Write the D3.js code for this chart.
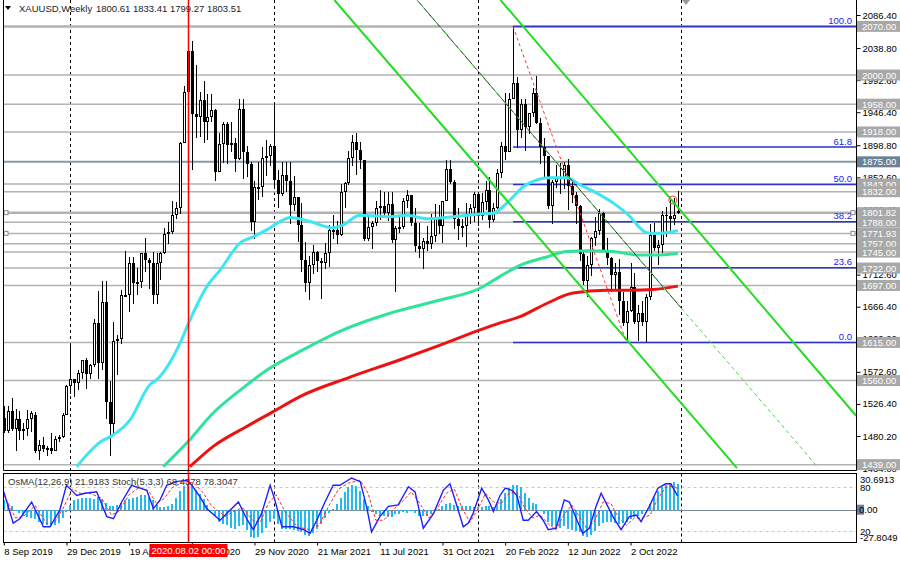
<!DOCTYPE html>
<html><head><meta charset="utf-8">
<script src="https://cdn.jsdelivr.net/npm/d3@7"></script>
<style>
html,body{margin:0;padding:0;background:#fff;}
svg{display:block;font-family:"Liberation Sans",Arial,sans-serif;}
</style></head><body>
<svg id="c" width="900" height="561"></svg>
<script>
// ---------- DATA ----------
const symbolTitle = "XAUUSD,Weekly";
const lastOHLC = "1800.61 1833.41 1799.27 1803.51";
const oscTitle = "OsMA(12,26,9) 21.9183  Stoch(5,3,3) 68.4378 78.3047";
// week index 0 = 8 Sep 2019
const xTickIdx = [0,16,32,48,64,80,96,112,128,144,160];
const xTickLabels = ["8 Sep 2019","29 Dec 2019","19 Apr 2020","9 Aug 2020","29 Nov 2020","21 Mar 2021","11 Jul 2021","31 Oct 2021","20 Feb 2022","12 Jun 2022","2 Oct 2022"];
const yearStartIdx = [17,69,121,173];
const priceTicks = [2086.40,2038.80,1992.60,1946.40,1898.80,1852.60,1806.40,1758.80,1712.60,1666.40,1620.20,1572.60,1526.40,1480.20,1434.00];

const openP = [1506,1488,1516,1490,1504,1488,1490,1504,1510,1458,1467,1462,1463,1459,1476,1479,1511,
1552,1562,1557,1571,1589,1570,1583,1643,1585,1673,1529,1498,1617,1620,1683,1683,1729,1701,1702,1743,1734,1730,1683,1729,1743,1771,1774,1798,1809,1902,1975,2035,1944,1940,1964,1933,1940,1950,1861,1900,1930,1899,1902,1879,1951,1889,1872,1788,1839,1839,1881,1883,
1898,1849,1828,1856,1848,1813,1824,1784,1734,1700,1727,1745,1732,1729,1744,1777,1777,1769,1831,1844,1881,1903,1892,1877,1764,1781,1787,1808,1812,1802,1814,1763,1780,1781,1818,1827,1787,1754,1750,1761,1757,1768,1792,1783,1818,1865,1846,1792,1783,1783,1798,1809,
1829,1797,1817,1835,1791,1808,1859,1898,1889,1966,1988,1921,1958,1925,1945,1974,1931,1896,1883,1811,1846,1853,1851,1871,1840,1827,1811,1742,1703,1727,1766,1775,1802,1747,1737,1712,1716,1675,1643,1660,1695,1644,1657,1644,1681,1770,1751,1755,1798,1797,1793,1800.61];
const highP = [1524,1523,1535,1519,1516,1499,1518,1516,1515,1474,1479,1466,1484,1480,1482,1514,1554,
1611,1563,1575,1590,1592,1584,1649,1689,1703,1703,1560,1645,1625,1690,1747,1738,1738,1722,1744,1765,1736,1745,1744,1745,1779,1789,1818,1817,1903,1984,2075,2049,2015,1976,1992,1973,1973,1951,1917,1932,1933,1932,1910,1965,1966,1898,1875,1848,1875,1896,1906,1900,
1959,1863,1875,1875,1875,1855,1825,1815,1760,1740,1755,1746,1737,1758,1784,1798,1790,1843,1846,1890,1913,1916,1903,1878,1795,1790,1818,1834,1832,1832,1832,1782,1795,1823,1834,1827,1809,1787,1765,1782,1800,1814,1813,1818,1877,1877,1849,1808,1793,1815,1814,1831,
1831,1830,1848,1853,1815,1865,1903,1974,1974,2070,1997,1966,1966,1945,1982,1998,1938,1909,1884,1849,1870,1874,1875,1879,1847,1831,1813,1745,1739,1767,1795,1807,1803,1765,1738,1729,1735,1688,1675,1730,1715,1669,1675,1684,1786,1787,1762,1804,1810,1824,1823,1833.41];
const lowP = [1485,1484,1488,1459,1474,1475,1480,1486,1456,1445,1457,1452,1454,1459,1471,1478,1510,
1541,1536,1546,1563,1548,1562,1580,1563,1575,1504,1451,1482,1568,1613,1680,1659,1671,1683,1693,1717,1692,1670,1671,1705,1742,1757,1771,1792,1800,1902,1964,1863,1910,1911,1902,1907,1932,1848,1860,1873,1872,1889,1860,1877,1850,1853,1775,1764,1820,1825,1854,1869,
1836,1808,1826,1831,1785,1804,1760,1717,1687,1676,1713,1717,1677,1721,1723,1764,1756,1768,1808,1842,1869,1856,1865,1761,1761,1750,1783,1791,1794,1790,1758,1687,1773,1778,1808,1782,1745,1737,1721,1746,1749,1760,1771,1758,1818,1843,1778,1762,1767,1753,1785,1789,
1782,1791,1805,1780,1788,1807,1851,1878,1889,1966,1895,1910,1890,1915,1940,1930,1872,1850,1807,1786,1838,1828,1836,1805,1816,1785,1732,1697,1680,1711,1754,1770,1746,1727,1688,1690,1654,1639,1615,1659,1641,1617,1638,1616,1676,1747,1727,1744,1767,1773,1784,1799.27];
const closeP = [1488,1516,1490,1504,1488,1490,1504,1514,1458,1467,1462,1463,1459,1476,1479,1511,1552,
1562,1557,1571,1589,1570,1583,1643,1585,1673,1529,1498,1617,1620,1683,1683,1729,1701,1702,1743,1734,1730,1683,1729,1743,1771,1774,1798,1809,1902,1975,2035,1944,1940,1964,1933,1940,1950,1861,1900,1930,1899,1902,1879,1951,1889,1872,1788,1839,1839,1881,1883,1898,
1849,1828,1856,1848,1813,1824,1784,1734,1700,1727,1745,1732,1729,1744,1777,1777,1769,1831,1844,1881,1903,1892,1877,1764,1781,1787,1808,1812,1802,1814,1763,1780,1781,1818,1827,1787,1754,1750,1761,1757,1768,1792,1783,1818,1865,1846,1792,1783,1783,1798,1809,1829,
1797,1817,1835,1791,1808,1859,1898,1889,1966,1988,1921,1958,1925,1945,1974,1931,1896,1883,1811,1846,1853,1851,1871,1840,1827,1811,1742,1703,1727,1766,1775,1802,1747,1737,1712,1716,1675,1643,1660,1695,1644,1657,1644,1681,1770,1751,1755,1798,1797,1793,1798,1803.51];

// moving averages: [week index, price]
const maFast = [[18.6,1436],[25.3,1474],[27.1,1479],[32.2,1503],[37.3,1554],[39,1561],[45,1614],[47.5,1647],[51.8,1695],[55.2,1719],[60.3,1758],[63.6,1767],[67.1,1777],[70.5,1789],[73.1,1795],[78.2,1789],[84,1780],[86.6,1784],[90.9,1798],[98.6,1796],[102.9,1798],[108,1793],[114.7,1796],[121.6,1800],[124.9,1801],[129.2,1820],[132.6,1839],[136.1,1849],[139.4,1852],[143.7,1852],[147.1,1842],[151.4,1830],[155.5,1816],[159.9,1796],[162.4,1780],[164.1,1773],[167.5,1772],[172.1,1776]];
const maMid = [[40.7,1436],[46.7,1470],[53.4,1513],[60.3,1546],[67.1,1575],[75.6,1602],[85.8,1631],[98.6,1657],[111.4,1676],[121.6,1693],[126.7,1710],[131.8,1726],[138.6,1738],[143.7,1746],[149.7,1747],[155.5,1746],[161.6,1741],[167.5,1741],[172.1,1743]];
const maSlow = [[47.5,1436],[53.4,1465],[62,1494],[68.7,1515],[75.6,1537],[88.4,1565],[101.2,1590],[111.4,1611],[121.6,1633],[126.7,1643],[131.8,1652],[138.6,1671],[145.3,1686],[153.9,1690],[159.9,1690],[165.7,1691],[172.1,1696]];

const levelPrices = [2070,2000,1958,1918,1875,1843,1832,1801.82,1788,1771.93,1757,1745,1722,1697,1615,1560,1439];
const darkLevel = 1875;
const thickLevels = [2070,1801.82];
const squareLevels = [1801.82,1771.93];
const fibPrices = [2070,1896.2,1842.5,1788.8,1722.4,1615];
const fibNames = ["100.0","61.8","50.0","38.2","23.6","0.0"];
const fibStartIdx = 130;
const fibBase = [130,2070,159,1615];
const channelLines = [[84.4,2108,187.2,1434.1],[126.8,2108,217.6,1509.4]];
const trendLine = [105.5,2108,208,1434.1];
const trendSolidEnd = 173;
const markerPoint = [170.8,1820];
const vLineIdx = 47;
const vLineLabel = "2020.08.02 00:00";

const osma = [8,6,3,-1,-3,-5,-6,-7,-8,-10,-12,-13,-14,-13,-11,-7,-2,
4,8,9,10,10,10,9,11,9,6,3,3,4,6,8,9,10,11,12,12,11,8,4,2,2,3,5,10,16,20,22,21,17,13,9,4,
-1,-5,-10,-12,-13,-15,-16,-14,-13,-17,-23,-24,-23,-20,-15,-10,-8,-12,-16,-16,-16,-17,-18,-19,-21,-22,-20,-16,-12,-7,-3,1,5,10,15,19,21,20,16,9,3,-2,-4,-5,-5,-6,-6,-4,-4,-2,-3,-1,-3,-5,-5,-5,-4,-1,1,3,5,
6,4,3,3,3,3,2,2,2,3,3,2,5,9,14,18,21,21,19,14,10,6,5,-1,-4,-10,-14,-16,-15,-14,-16,-17,-18,-19,-22,-23,-21,-18,-14,-11,-10,-10,-11,-12,-11,-10,-8,-6,-5,-4,-1,5,11,16,19,21,22,23,21.9183];
const stochMain = [[0,74],[2.4,31],[4.1,37],[7.1,60],[10.1,26],[11.8,26],[14.3,49],[16,83],[17.3,76],[18.6,69],[20.7,72],[23.7,74],[26.3,40],[28,37],[30.1,60],[32.6,83],[34.8,79],[36.5,76],[38.2,51],[39.9,63],[41.6,83],[44.1,88],[46.7,90],[48,83],[50.1,67],[51.8,51],[55.2,35],[57.8,49],[59.9,60],[62,37],[63.7,22],[65.8,44],[68,83],[69.2,63],[71,26],[74,26],[76.5,22],[78.2,17],[79.9,35],[82,60],[84.1,83],[85.8,83],[88.8,93],[91,88],[92.6,54],[93.9,19],[96,40],[98.2,54],[100.7,56],[103.3,81],[105,74],[107.1,24],[109.7,44],[112.2,76],[113.9,85],[115.2,63],[117.3,26],[118.6,31],[119.8,44],[122,79],[123.7,63],[125,47],[126.7,69],[128,79],[129.7,76],[131,69],[132.6,35],[133.9,35],[136,47],[137.7,35],[139,22],[141,24],[143.1,63],[144.4,60],[146.5,33],[147.8,17],[149.5,24],[151.2,54],[152.5,72],[154.2,54],[155.5,40],[157.6,22],[159.7,40],[161.5,42],[162.7,33],[164.8,54],[167,79],[169,85],[170.3,85],[172,68.4]];
const stochSignal = [[0,70],[3,38],[5,40],[8,55],[11,30],[13,32],[15.5,55],[17.5,78],[19.5,72],[22,72],[25,65],[27.5,42],[29.5,48],[32,70],[34.5,80],[37,75],[39,58],[41,65],[43,80],[46,88],[48.5,86],[51,72],[53,55],[56.5,40],[59,48],[61,52],[63.5,35],[65.5,32],[67.5,58],[69.5,70],[72,45],[75,26],[78,22],[80.5,28],[83,55],[85.5,78],[88,86],[91,90],[93,72],[95,35],[97,35],[99.5,50],[102,62],[104,74],[106,60],[108.5,38],[110.5,50],[113,72],[115,78],[117,52],[119,32],[121,50],[123,72],[125,60],[127,58],[129,72],[131,74],[133,52],[135,38],[137,42],[139,30],[141,22],[143,42],[145,56],[147,40],[149,22],[151,36],[153,60],[155,58],[157,38],[159,28],[161,38],[163,38],[165,42],[167,65],[169,80],[171,82],[172,78.3]];
const stochLevels = [80,20];
const oscAxisLabels = [["30.6913",479],["80",487.5],["20",531],["-27.8049",537]];

// ---------- LAYOUT ----------
const svg = d3.select("#c");
const L = 3.5, R = 856.5, MB = 470.5, OT = 473.5, OB = 542.5;
const x = d3.scaleLinear().domain([0,160]).range([3.8,630.5]);
const y = d3.scaleLinear().domain([1434,2086.4]).range([468.1,15]);
const yO = d3.scaleLinear().domain([-27.8049,30.6913]).range([542.7,473.3]);
const yS = d3.scaleLinear().domain([0,100]).range([545.7,472.9]);

const defs = svg.append("defs");
defs.append("clipPath").attr("id","cm").append("rect").attr("x",L).attr("y",0).attr("width",R-L).attr("height",MB);
defs.append("clipPath").attr("id","co").append("rect").attr("x",L).attr("y",OT).attr("width",R-L).attr("height",OB-OT);

const main = svg.append("g").attr("clip-path","url(#cm)");
const osc = svg.append("g").attr("clip-path","url(#co)");

// separators
yearStartIdx.forEach(i=>{
  const xx = Math.round(x(i))+0.5;
  main.append("line").attr("x1",xx).attr("x2",xx).attr("y1",0).attr("y2",MB).attr("stroke","#000").attr("stroke-dasharray","3,3");
  osc.append("line").attr("x1",xx).attr("x2",xx).attr("y1",OT).attr("y2",OB).attr("stroke","#000").attr("stroke-dasharray","3,3");
});

// horizontal level lines
levelPrices.forEach(p=>{
  const yy = y(p);
  main.append("line").attr("x1",L).attr("x2",R).attr("y1",yy).attr("y2",yy)
    .attr("stroke", p===darkLevel ? "#8a98aa" : "#b2b2b2")
    .attr("stroke-width", thickLevels.includes(p) ? 2.5 : (p===darkLevel?2:1.5));
});

// fib lines
fibPrices.forEach((p,k)=>{
  const yy = y(p);
  main.append("line").attr("x1",x(fibStartIdx)).attr("x2",R).attr("y1",yy).attr("y2",yy).attr("stroke","#2a34c8").attr("stroke-width",1.5);
  main.append("text").attr("x",852).attr("y",yy-2.5).attr("text-anchor","end").attr("font-size",9.5).attr("fill","#2222ee").text(fibNames[k]);
});

const vx = Math.round(x(vLineIdx))+0.5;

// candles
const cg = main.append("g").attr("shape-rendering","crispEdges");
openP.forEach((o,i)=>{
  const h=highP[i], l=lowP[i], c=closeP[i];
  const cx = Math.round(x(i));
  cg.append("line").attr("x1",cx+0.5).attr("x2",cx+0.5).attr("y1",y(h)).attr("y2",y(l)).attr("stroke","#000");
  const top = Math.round(y(Math.max(o,c))), bot = Math.round(y(Math.min(o,c)));
  if (c>=o){
    cg.append("rect").attr("x",cx-0.5).attr("y",top+0.5).attr("width",2).attr("height",Math.max(bot-top-1,0.5)).attr("fill","#fff").attr("stroke","#000");
  } else {
    cg.append("rect").attr("x",cx-1).attr("y",top).attr("width",3).attr("height",Math.max(bot-top,1)).attr("fill","#000");
  }
});

// moving averages
const maLine = d3.line().x(d=>x(d[0])).y(d=>y(d[1])).curve(d3.curveMonotoneX);
main.append("path").attr("d",maLine(maSlow)).attr("fill","none").attr("stroke","#ee1111").attr("stroke-width",3);
main.append("path").attr("d",maLine(maMid)).attr("fill","none").attr("stroke","#2fe39a").attr("stroke-width",3);
main.append("path").attr("d",maLine(maFast)).attr("fill","none").attr("stroke","#3ee6f2").attr("stroke-width",3);

// channel lines
channelLines.forEach(c=>{
  main.append("line").attr("x1",x(c[0])).attr("y1",y(c[1])).attr("x2",x(c[2])).attr("y2",y(c[3])).attr("stroke","#22dd22").attr("stroke-width",2);
});
// trend line (solid dark part + green dashed)
{
  const t=trendLine, f=(trendSolidEnd-t[0])/(t[2]-t[0]);
  const pe = t[1]+(t[3]-t[1])*f;
  main.append("line").attr("x1",x(t[0])).attr("y1",y(t[1])).attr("x2",x(trendSolidEnd)).attr("y2",y(pe)).attr("stroke","#222").attr("stroke-width",1);
  main.append("line").attr("x1",x(t[0])).attr("y1",y(t[1])).attr("x2",x(t[2])).attr("y2",y(t[3])).attr("stroke","#44dd44").attr("stroke-width",1).attr("stroke-dasharray","4,3");
}
// fib base line
main.append("line").attr("x1",x(fibBase[0])).attr("y1",y(fibBase[1])).attr("x2",x(fibBase[2])).attr("y2",y(fibBase[3])).attr("stroke","#ff3030").attr("stroke-width",1).attr("stroke-dasharray","3,3");
// marker
main.append("circle").attr("cx",x(markerPoint[0])).attr("cy",y(markerPoint[1])).attr("r",4).attr("fill","none").attr("stroke","#ff4040").attr("stroke-width",1);
// squares
squareLevels.forEach(p=>{
  [6,853].forEach(sx=>{
    main.append("rect").attr("x",sx-2).attr("y",y(p)-2).attr("width",4).attr("height",4).attr("fill","#fff").attr("stroke","#888");
  });
});
// vertical red line
svg.append("line").attr("x1",vx).attr("x2",vx).attr("y1",0).attr("y2",OB).attr("stroke","#ff0000").attr("stroke-width",1.5);

// ---------- OSCILLATOR ----------
stochLevels.forEach(v=>{
  osc.append("line").attr("x1",L).attr("x2",R).attr("y1",Math.round(yS(v))+0.5).attr("y2",Math.round(yS(v))+0.5).attr("stroke","#c8c8c8").attr("stroke-dasharray","3,3");
});
osc.append("line").attr("x1",L).attr("x2",R).attr("y1",Math.round(yO(0))+0.5).attr("y2",Math.round(yO(0))+0.5).attr("stroke","#7a8a9a");
const og = osc.append("g").attr("shape-rendering","crispEdges");
osma.forEach((v,i)=>{
  const cx = Math.round(x(i));
  const y0 = yO(0), yv = yO(v);
  og.append("rect").attr("x",cx-1).attr("y",Math.min(y0,yv)).attr("width",2).attr("height",Math.abs(yv-y0)).attr("fill","#22b8f0");
});
const sl = d3.line().x(d=>x(d[0])).y(d=>yS(d[1]));
osc.append("path").attr("d",sl(stochSignal)).attr("fill","none").attr("stroke","#ff2a2a").attr("stroke-width",1).attr("stroke-dasharray","3,2");
osc.append("path").attr("d",sl(stochMain)).attr("fill","none").attr("stroke","#2020ff").attr("stroke-width",1.4);
svg.append("text").attr("x",8).attr("y",485).attr("font-size",9.5).attr("fill","#333").text(oscTitle);

// ---------- FRAMES & AXES ----------
svg.append("path").attr("d",`M${L},0V${MB}H${R}V0`).attr("fill","none").attr("stroke","#000");
svg.append("rect").attr("x",L).attr("y",OT).attr("width",R-L).attr("height",OB-OT).attr("fill","none").attr("stroke","#000");

const ax = svg.append("g").attr("transform",`translate(${R},0)`)
  .call(d3.axisRight(y).tickValues(priceTicks).tickFormat(d3.format(".2f")).tickSize(4).tickSizeOuter(0));
ax.select(".domain").remove();
ax.selectAll("text").attr("font-size",9.5).attr("font-family","Liberation Sans, Arial").attr("fill","#000").attr("x",6);

// level labels
levelPrices.forEach(p=>{
  const yy = y(p);
  svg.append("rect").attr("x",857).attr("y",yy-5.5).attr("width",43).attr("height",11).attr("fill", p===darkLevel ? "#6f8196" : "#a8a8a8");
  svg.append("text").attr("x",862).attr("y",yy+3.5).attr("font-size",9.5).attr("fill","#fff").text(d3.format(".2f")(p));
});

// osc axis labels
oscAxisLabels.forEach(d=>{
  svg.append("text").attr("x",860).attr("y",d[1]+3.5).attr("font-size",9.5).attr("fill","#000").text(d[0]);
});
svg.append("rect").attr("x",857).attr("y",yO(0)-5).attr("width",7).attr("height",10).attr("fill","#6f8196");
svg.append("text").attr("x",859).attr("y",yO(0)+3.5).attr("font-size",9.5).attr("fill","#000").text("0.00");

// bottom axis
const bx = svg.append("g").attr("transform",`translate(0,${OB})`)
  .call(d3.axisBottom(x).tickValues(xTickIdx).tickFormat((d,k)=>xTickLabels[k]).tickSize(3).tickSizeOuter(0));
bx.select(".domain").remove();
bx.selectAll("text").attr("text-anchor","start").attr("x",0).attr("dy",0).attr("y",12).attr("font-size",9.5).attr("font-family","Liberation Sans, Arial").attr("fill","#000");

// red date label
svg.append("rect").attr("x",vx-39).attr("y",544).attr("width",78).attr("height",13).attr("fill","#ff0000");
svg.append("text").attr("x",vx).attr("y",554).attr("text-anchor","middle").attr("font-size",9.5).attr("fill","#fff").text(vLineLabel);

// header
svg.append("path").attr("d","M5,6 L11,6 L8,10 Z").attr("fill","#000");
svg.append("text").attr("x",19).attr("y",12).attr("font-size",9.5).attr("fill","#222").text(symbolTitle);
svg.append("text").attr("x",96).attr("y",12).attr("font-size",9.5).attr("fill","#222").text(lastOHLC);
// chart shift marker
svg.append("path").attr("d","M682,0 L690,0 L686,5 Z").attr("fill","#999");
</script>
</body></html>
